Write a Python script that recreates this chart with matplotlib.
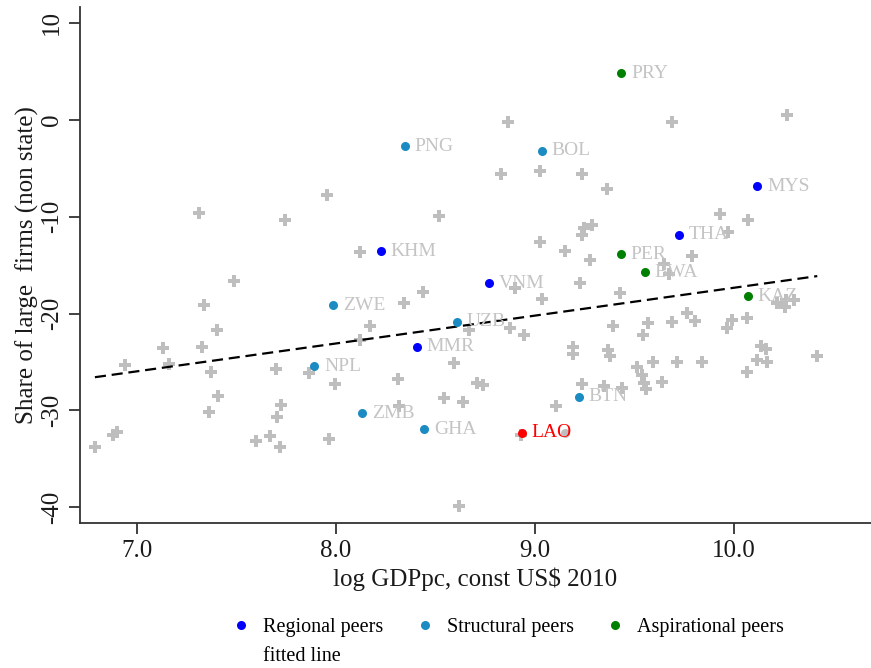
import matplotlib
matplotlib.use("Agg")
import matplotlib.pyplot as plt
from matplotlib.lines import Line2D

# ---- data ----
other_x = [7.956, 7.313, 7.746, 7.489, 7.339, 7.405, 7.132, 7.330, 6.943, 7.164,
           7.374, 7.701, 7.868, 7.997, 7.410, 7.727, 7.365, 7.704, 6.899, 6.881,
           6.790, 7.600, 7.671, 7.721, 7.964, 8.517, 8.120, 8.341, 8.439, 8.170,
           8.123, 8.314, 8.596, 8.708, 8.740, 8.542, 8.640, 8.316, 8.672, 8.618,
           8.864, 8.833, 9.026, 9.025, 8.903, 9.035, 8.878, 8.948, 9.108, 9.691,
           10.270, 9.238, 9.363, 9.933, 10.072, 9.246, 9.289, 9.238, 9.150, 9.280,
           9.972, 9.788, 9.649, 9.674, 9.226, 9.427, 10.219, 10.265, 10.303, 10.256,
           9.394, 9.569, 9.543, 9.690, 9.767, 9.808, 9.993, 9.964, 10.068, 9.191,
           9.191, 9.370, 9.379, 9.512, 9.537, 9.547, 9.592, 9.641, 9.716, 9.842,
           10.135, 10.160, 10.118, 10.166, 10.068, 10.417, 9.236, 9.346, 9.438, 9.557,
           8.933]
other_y = [-7.79, -9.62, -10.30, -16.68, -19.09, -21.74, -23.57, -23.40, -25.36, -25.19,
           -26.01, -25.67, -26.16, -27.25, -28.46, -29.43, -30.19, -30.71, -32.26, -32.55,
           -33.74, -33.12, -32.67, -33.81, -32.98, -9.96, -13.65, -18.88, -17.74, -21.30,
           -22.73, -26.71, -25.08, -27.12, -27.36, -28.69, -29.16, -29.50, -21.71, -39.89,
           -0.21, -5.54, -5.30, -12.61, -17.40, -18.54, -21.45, -22.23, -29.50, -0.21,
           0.49, -5.61, -7.09, -9.75, -10.29, -11.17, -10.89, -11.92, -13.52, -14.51,
           -11.58, -14.04, -14.85, -15.95, -16.85, -17.92, -18.90, -18.64, -18.64, -19.31,
           -21.33, -21.02, -22.23, -20.88, -19.90, -20.79, -20.63, -21.52, -20.45, -23.47,
           -24.15, -23.81, -24.33, -25.47, -26.29, -27.12, -24.95, -27.09, -24.97, -25.00,
           -23.35, -23.64, -24.79, -25.02, -26.05, -24.38, -27.25, -27.43, -27.66, -27.77,
           -32.50]

extra_circle_x = [9.151]
extra_circle_y = [-32.29]

peer_codes = ["KHM", "MMR", "VNM", "THA", "MYS",
              "PNG", "BOL", "ZWE", "UZB", "NPL", "BTN", "ZMB", "GHA",
              "PRY", "PER", "BWA", "KAZ"]
peer_x = [8.227, 8.408, 8.772, 9.726, 10.119,
          8.346, 9.037, 7.986, 8.610, 7.893, 9.221, 8.133, 8.445,
          9.436, 9.433, 9.553, 10.070]
peer_y = [-13.54, -23.40, -16.88, -11.85, -6.85,
          -2.72, -3.20, -19.13, -20.85, -25.43, -28.57, -30.29, -31.95,
          4.83, -13.89, -15.71, -18.20]
peer_group = ["Regional peers"] * 5 + ["Structural peers"] * 8 + ["Aspirational peers"] * 4

focus_code = "LAO"
focus_x = 8.935
focus_y = -32.29

fit_x = [6.79, 10.42]
fit_y = [-26.57, -16.13]

group_names = ["Regional peers", "Structural peers", "Aspirational peers"]
group_colors = {"Regional peers": "#0000ff",
                "Structural peers": "#1b8bc1",
                "Aspirational peers": "#008000"}

xticks = [7.0, 8.0, 9.0, 10.0]
yticks = [10, 0, -10, -20, -30, -40]

# ---- figure ----
plt.rcParams["font.family"] = ["Liberation Serif", "DejaVu Serif"]
fig = plt.figure(figsize=(8.71, 6.68), dpi=100)
ax = fig.add_axes([80 / 871, 1 - 523 / 668, 1 - 80 / 871, (523 - 7) / 668])

gray = "#bebebe"
label_gray = "#c4c4c4"

ax.plot(other_x, other_y, linestyle="none", marker="P", markersize=8.5,
        color=gray, markeredgewidth=0, zorder=2)
ax.plot(extra_circle_x, extra_circle_y, linestyle="none", marker="o", markersize=6.5,
        color=gray, markeredgewidth=0, zorder=2)

ax.plot(fit_x, fit_y, color="black", lw=1.6, dashes=(5, 2.6), zorder=3)

for code, x, y, g in zip(peer_codes, peer_x, peer_y, peer_group):
    ax.plot([x], [y], linestyle="none", marker="o", markersize=6.5,
            color=group_colors[g], markeredgewidth=0, zorder=4)
    ax.annotate(code, (x, y), xytext=(7, 0), textcoords="offset points",
                ha="left", va="center", fontsize=14, color=label_gray, zorder=5)

ax.plot([focus_x], [focus_y], linestyle="none", marker="o", markersize=6.5,
        color="#ff0000", markeredgewidth=0, zorder=4)
ax.annotate(focus_code, (focus_x, focus_y), xytext=(7, 0), textcoords="offset points",
            ha="left", va="center", fontsize=14, color="#ff0000", zorder=5)

ax.set_xlim(6.715, 10.69)
ax.set_ylim(-41.62, 11.65)
ax.set_xticks(xticks)
ax.set_xticklabels([f"{t:.1f}" for t in xticks])
ax.set_yticks(yticks)
ax.set_yticklabels([str(t) for t in yticks], rotation=90, va="center")
for s in ["top", "right"]:
    ax.spines[s].set_visible(False)
for s in ["left", "bottom"]:
    ax.spines[s].set_linewidth(1.3)
    ax.spines[s].set_color("#333333")
ax.tick_params(axis="both", length=8, width=1.3, color="#333333",
               labelsize=18, labelcolor="#1a1a1a")
ax.tick_params(axis="x", pad=4.5)
ax.tick_params(axis="y", pad=4)

ax.set_xlabel("log GDPpc, const US$ 2010", fontsize=18, color="#1a1a1a", labelpad=4)
ax.set_ylabel("Share of large  firms (non state)", fontsize=18, color="#1a1a1a", labelpad=2)

handles = [
    Line2D([], [], linestyle="none", marker="o", markersize=6.5, color=group_colors[group_names[0]], markeredgewidth=0),
    Line2D([], [], linestyle="none", marker="none"),
    Line2D([], [], linestyle="none", marker="o", markersize=6.5, color=group_colors[group_names[1]], markeredgewidth=0),
    Line2D([], [], linestyle="none", marker="o", markersize=6.5, color=group_colors[group_names[2]], markeredgewidth=0),
]
labels = [group_names[0], "fitted line", group_names[1], group_names[2]]
fig.legend(handles, labels, ncol=3, loc="upper left", bbox_to_anchor=(231 / 871, 1 - 618 / 668),
           frameon=False, fontsize=14.5, handlelength=1.0, handletextpad=0.6,
           columnspacing=1.55, labelspacing=0.5, borderpad=0, borderaxespad=0)

fig.savefig("out.png", dpi=100)
